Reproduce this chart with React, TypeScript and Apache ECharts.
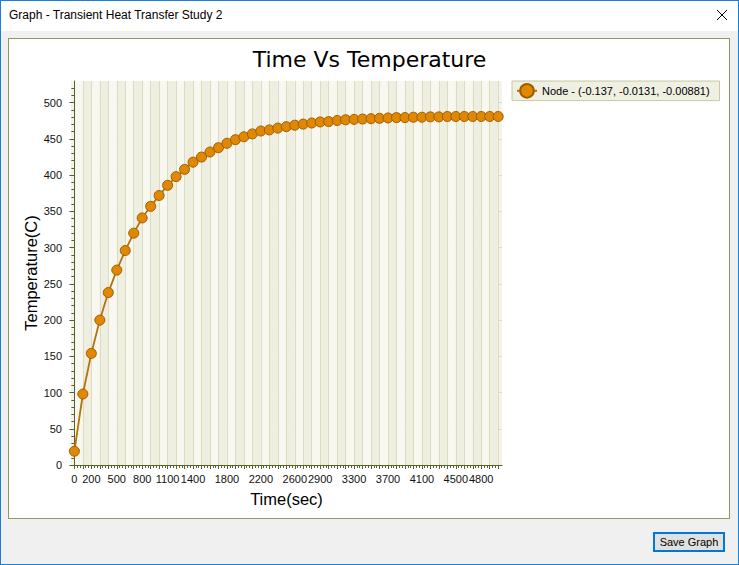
import React, { useEffect, useRef } from "react";
import * as echarts from "echarts";

const times = [
  0, 100, 200, 300, 400, 500, 600, 700, 800, 900,
  1000, 1100, 1200, 1300, 1400, 1500, 1600, 1700, 1800, 1900,
  2000, 2100, 2200, 2300, 2400, 2500, 2600, 2700, 2800, 2900,
  3000, 3100, 3200, 3300, 3400, 3500, 3600, 3700, 3800, 3900,
  4000, 4100, 4200, 4300, 4400, 4500, 4600, 4700, 4800, 4900, 5000,
];

const temperatures = [
  19, 98, 154, 200, 238, 269, 296, 320, 341, 357,
  372, 386, 398, 408, 418, 425, 432, 438, 444, 449,
  453, 457, 461, 462.5, 465, 467, 469, 470.5, 472, 473.5,
  474, 475.5, 476.5, 477, 477.5, 478, 478.5, 479, 479.5, 479.5,
  480, 480, 480.5, 480.5, 481, 481, 481, 481, 481, 481, 481,
];

const xTickLabels = [0, 200, 500, 800, 1100, 1400, 1800, 2200, 2600, 2900, 3300, 3700, 4100, 4500, 4800];
const yTickLabels = [0, 50, 100, 150, 200, 250, 300, 350, 400, 450, 500];

const seriesName = "Node - (-0.137, -0.0131, -0.00881)";
const chartTitle = "Time Vs Temperature";
const xAxisName = "Time(sec)";
const yAxisName = "Temperature(C)";

const FONT = "'Liberation Sans', Arial, sans-serif";
const AXIS_COLOR = "#56612c";
const GRID_COLOR = "#dcdcc2";

export default function App() {
  const ref = useRef<HTMLDivElement>(null);

  useEffect(() => {
    if (!ref.current) return;
    const chart = echarts.init(ref.current, null, { renderer: "svg" });

    // minor ticks: thirds of each time step
    const minorTicks: number[] = [];
    for (let i = 0; i < times.length - 1; i++) {
      const step = times[i + 1] - times[i];
      minorTicks.push(times[i] + step / 3, times[i] + (2 * step) / 3);
    }

    chart.setOption({
      animation: false,
      backgroundColor: "transparent",
      title: {
        text: chartTitle,
        left: "center",
        top: 43,
        textStyle: {
          fontFamily: "'DejaVu Sans', sans-serif",
          fontSize: 22,
          fontWeight: "normal",
          color: "#000",
        },
      },
      legend: {
        left: 512,
        top: 81,
        padding: [2, 10, 2, 4],
        itemWidth: 20,
        itemHeight: 17,
        itemGap: 5,
        backgroundColor: "#efefe2",
        borderColor: "#c8c8a6",
        borderWidth: 1,
        selectedMode: false,
        textStyle: { fontFamily: FONT, fontSize: 11, color: "#000" },
        data: [seriesName],
      },
      grid: {
        left: 71,
        top: 81,
        width: 431,
        height: 384,
        show: true,
        backgroundColor: "#f4f4e8",
        borderWidth: 0,
      },
      xAxis: [
        {
          type: "value",
          min: -40,
          max: 5045,
          name: xAxisName,
          nameLocation: "middle",
          nameGap: 25,
          nameMoveOverlap: false,
          nameTextStyle: { fontFamily: FONT, fontSize: 16.5, color: "#000" },
          axisLine: { show: true, lineStyle: { color: AXIS_COLOR, width: 1 } },
          axisTick: {
            show: true,
            length: 4,
            customValues: times,
            lineStyle: { color: AXIS_COLOR },
          },
          axisLabel: {
            customValues: xTickLabels,
            formatter: (v: number) => String(v),
            hideOverlap: false,
            showMinLabel: true,
            showMaxLabel: true,
            fontFamily: FONT,
            fontSize: 11,
            color: "#111",
            margin: 8,
          },
          splitLine: { show: true, lineStyle: { color: GRID_COLOR, width: 1 } },
          splitArea: { show: true, areaStyle: { color: ["#f8f8f0", "#efefe1"] } },
        },
        {
          type: "value",
          min: -40,
          max: 5045,
          position: "bottom",
          axisLine: { show: false },
          axisTick: {
            show: true,
            length: 3,
            customValues: minorTicks,
            lineStyle: { color: AXIS_COLOR },
          },
          axisLabel: { show: false },
          splitLine: { show: false },
        },
      ],
      yAxis: {
        type: "value",
        min: 0,
        max: 530,
        interval: 50,
        name: yAxisName,
        nameLocation: "middle",
        nameGap: 32,
        nameMoveOverlap: false,
        nameTextStyle: { fontFamily: FONT, fontSize: 16.5, color: "#000" },
        axisLine: { show: true, lineStyle: { color: AXIS_COLOR, width: 1 } },
        axisTick: {
          show: true,
          length: 5,
          customValues: yTickLabels,
          lineStyle: { color: AXIS_COLOR },
        },
        minorTick: { show: true, splitNumber: 5, length: 3, lineStyle: { color: AXIS_COLOR } },
        axisLabel: {
          customValues: yTickLabels,
          fontFamily: FONT,
          fontSize: 11,
          color: "#111",
          margin: 9,
        },
        splitLine: { show: true, lineStyle: { color: GRID_COLOR, width: 1 } },
      },
      series: [
        {
          name: seriesName,
          type: "line",
          xAxisIndex: 0,
          data: times.map((t, i) => [t, temperatures[i]]),
          symbol: "circle",
          symbolSize: 10,
          lineStyle: { color: "#b8700c", width: 1.8 },
          itemStyle: { color: "#e08804", borderColor: "#9e5c00", borderWidth: 1 },
          emphasis: { disabled: true },
        },
      ],
    });

    return () => chart.dispose();
  }, []);

  return (
    <div
      style={{
        position: "fixed",
        left: 0,
        top: 0,
        width: 739,
        height: 565,
        background: "#f0f0f0",
        overflow: "hidden",
        fontFamily: FONT,
      }}
    >
      <div
        style={{
          position: "absolute",
          left: 0,
          top: 0,
          width: 739,
          height: 31,
          background: "#fff",
        }}
      >
        <span style={{ position: "absolute", left: 9, top: 8, fontSize: 12, color: "#000" }}>
          Graph - Transient Heat Transfer Study 2
        </span>
        <svg
          style={{ position: "absolute", left: 716, top: 9 }}
          width={12}
          height={12}
          viewBox="0 0 12 12"
        >
          <line x1={1} y1={1} x2={11} y2={11} stroke="#000" strokeWidth={1} />
          <line x1={11} y1={1} x2={1} y2={11} stroke="#000" strokeWidth={1} />
        </svg>
      </div>
      <div
        style={{
          position: "absolute",
          left: 8,
          top: 38,
          width: 722,
          height: 481,
          border: "1px solid #8a9b62",
          background: "#fff",
          boxSizing: "border-box",
        }}
      />
      <div
        style={{
          position: "absolute",
          left: 653,
          top: 532,
          width: 72,
          height: 20,
          border: "2px solid #0078d7",
          background: "#e1e1e1",
          boxSizing: "border-box",
          fontSize: 11,
          lineHeight: "16px",
          textAlign: "center",
          color: "#000",
        }}
      >
        Save Graph
      </div>
      <div
        style={{
          position: "absolute",
          inset: 0,
          border: "1px solid #1a7fd8",
          boxSizing: "border-box",
          pointerEvents: "none",
        }}
      />
      <div ref={ref} style={{ position: "absolute", left: 0, top: 0, width: 739, height: 565 }} />
    </div>
  );
}
